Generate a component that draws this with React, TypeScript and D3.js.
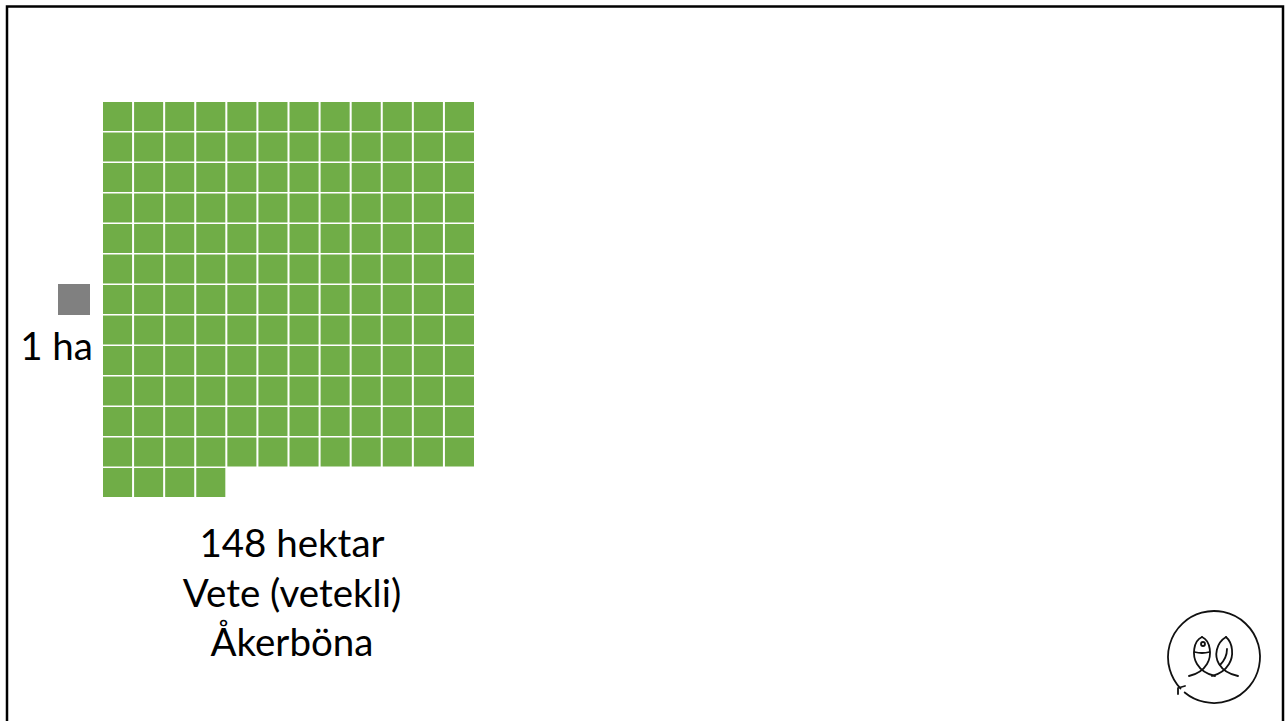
import React from 'react';
import * as d3 from 'd3';

// one square = one hectare
const totalHectares = 148;
const columns = 12;
const labelLines = ['148 hektar', 'Vete (vetekli)', 'Åkerböna'];
const unitLabel = '1 ha';

const WIDTH = 1286;
const HEIGHT = 721;
const GREEN = '#70ad47';
const GREY = '#808080';
const FONT = "Lato, 'Open Sans', sans-serif";

const App: React.FC = () => {
  const rows = Math.ceil(totalHectares / columns);
  const cells = d3.range(totalHectares).map(i => ({ col: i % columns, row: Math.floor(i / columns) }));

  const x = d3.scaleBand<number>()
    .domain(d3.range(columns))
    .range([103, 474])
    .paddingInner(0.065);

  const y = d3.scaleBand<number>()
    .domain(d3.range(rows))
    .range([102, 497])
    .paddingInner(0.05);

  // logo ring with a little arrow at the lower left
  const cx = 1214, cy = 657, r = 46;
  const ring = d3.arc()({
    innerRadius: r, outerRadius: r,
    startAngle: -Math.PI * 0.74, endAngle: Math.PI * 1.22,
  } as any);

  return (
    <div style={{ position: 'fixed', left: 0, top: 0 }}>
      <svg width={WIDTH} height={HEIGHT} style={{ display: 'block', background: '#fff' }}>
        {/* slide frame */}
        <path d={`M7,${HEIGHT + 5} V6.5 H1283 V${HEIGHT + 5}`} fill="none" stroke="#000" strokeWidth={2.5} />

        <g>
          {cells.map((c, i) => (
            <rect key={i} x={x(c.col)} y={y(c.row)} width={x.bandwidth()} height={y.bandwidth()} fill={GREEN} />
          ))}
        </g>

        {/* legend: one hectare */}
        <rect x={58} y={284} width={32} height={31} fill={GREY} />
        <text x={93} y={360} textAnchor="end" fontFamily={FONT} fontSize={38.5} fill="#000">
          {unitLabel}
        </text>

        <g fontFamily={FONT} fontSize={38.5} fill="#000" textAnchor="middle">
          {labelLines.map((t, i) => (
            <text key={t} x={292} y={557 + i * 49.5}>{t}</text>
          ))}
        </g>

        {/* logo */}
        <g fill="none" stroke="#111" strokeWidth={1.8} strokeLinecap="round" strokeLinejoin="round">
          <path d={ring || ''} transform={`translate(${cx},${cy})`} />
          <path d={`M1185,686 L1178,688 L1178,694`} />
          {/* fish */}
          <path d="M1202,637 C1193,641 1192,656 1197,664 C1200,669 1206,674 1215,676" />
          <path d="M1202,637 C1211,641 1212,656 1207,664 C1204,669 1198,674 1189,676" />
          <path d="M1194.5,652 Q1202,654 1209.5,652" />
          <circle cx={1203} cy={644} r={2} />
          {/* seed */}
          <path d="M1226,637 C1216,643 1214,656 1219,664 C1222,669 1228,674 1238,676" />
          <path d="M1226,637 C1233,643 1234,656 1229,664 C1226,669 1220,674 1212,676" />
          <path d="M1227,649 C1227,657 1223,662 1220,665" />
        </g>
      </svg>
    </div>
  );
};

export default App;
